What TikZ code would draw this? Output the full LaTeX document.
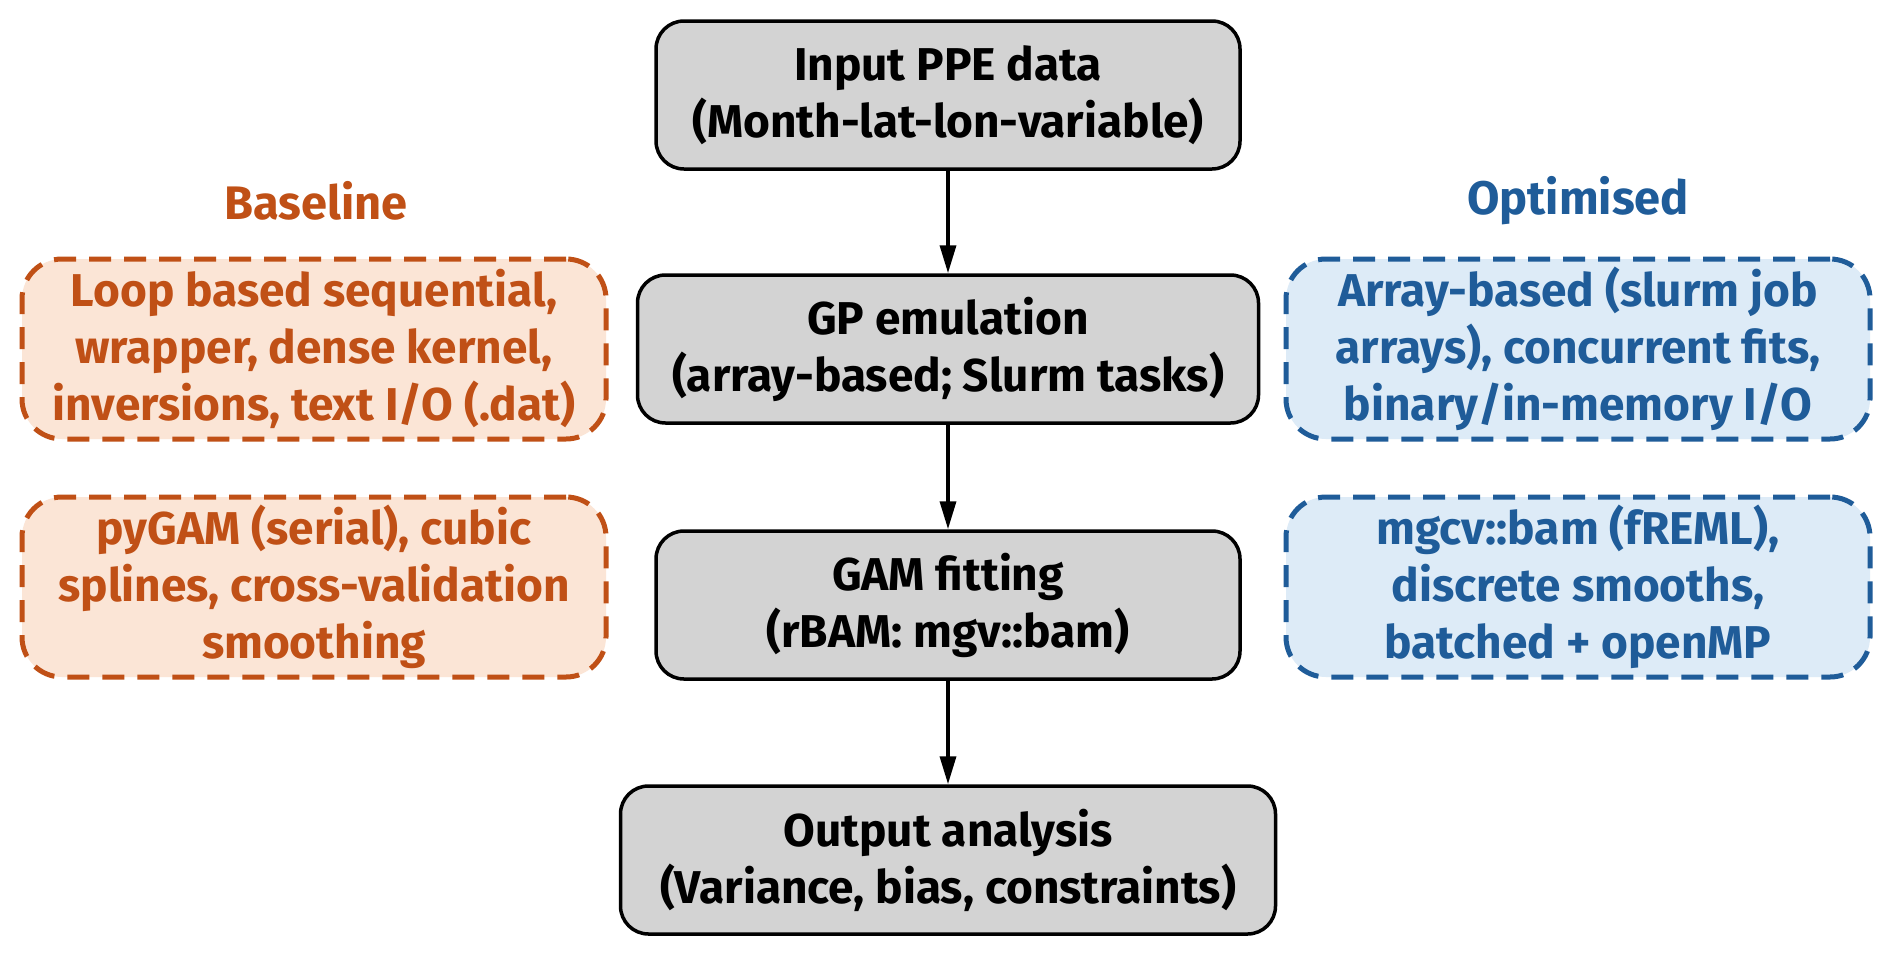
\documentclass[tikz,border=0pt]{standalone}
\usepackage{fontspec}
\setmainfont{Fira Sans}
\usetikzlibrary{arrows.meta}
\definecolor{baseorange}{RGB}{192,80,22}
\definecolor{basefill}{RGB}{251,229,214}
\definecolor{optblue}{RGB}{31,92,153}
\definecolor{optfill}{RGB}{221,235,247}
\definecolor{stepgray}{RGB}{211,211,211}
\tikzset{
  stage/.style={draw=black, line width=3.5pt, fill=stepgray, rounded corners=28pt,
    align=center, inner sep=0pt, font=\bfseries\fontsize{46}{57}\selectfont},
  base/.style={draw=baseorange, line width=5pt, fill=basefill, rounded corners=40pt,
    dash pattern=on 22pt off 13pt, align=center, inner sep=0pt, text=baseorange,
    minimum width=584pt, minimum height=180pt, font=\bfseries\fontsize{46}{57}\selectfont},
  opt/.style={base, draw=optblue, fill=optfill, text=optblue},
  flow/.style={line width=3.5pt, -{Triangle[length=28pt,width=16pt]}}
}
\begin{document}
\begin{tikzpicture}[x=1pt,y=-1pt]
  \useasboundingbox[fill=white] (0,0) rectangle (1892,956);
  % centre column
  \node[stage, minimum width=584pt, minimum height=148pt] (input) at (948,95)
    {Input PPE data\\(Month-lat-lon-variable)};
  \node[stage, minimum width=621pt, minimum height=148pt] (gp) at (948,349)
    {GP emulation\\(array-based; Slurm tasks)};
  \node[stage, minimum width=584pt, minimum height=148pt] (gam) at (948,605)
    {GAM fitting\\(rBAM: mgv::bam)};
  \node[stage, minimum width=655pt, minimum height=148pt] (output) at (948,860)
    {Output analysis\\(Variance, bias, constraints)};
  \draw[flow] (input) -- (gp);
  \draw[flow] (gp) -- (gam);
  \draw[flow] (gam) -- (output);
  % left side
  \node[text=baseorange, font=\bfseries\fontsize{47}{57}\selectfont] (basetitle) at (316,201) {Baseline};
  \node[base] (base1) at (314,349) {Loop based sequential,\\wrapper, dense kernel,\\inversions, text I/O (.dat)};
  \node[base] (base2) at (314,587) {pyGAM (serial), cubic\\splines, cross-validation\\smoothing};
  % right side
  \node[text=optblue, font=\bfseries\fontsize{47}{57}\selectfont] (opttitle) at (1578,201) {Optimised};
  \node[opt] (opt1) at (1578,349) {Array-based (slurm job\\arrays), concurrent fits,\\binary/in-memory I/O};
  \node[opt] (opt2) at (1578,587) {mgcv::bam (fREML),\\discrete smooths,\\batched + openMP};
\end{tikzpicture}
\end{document}
